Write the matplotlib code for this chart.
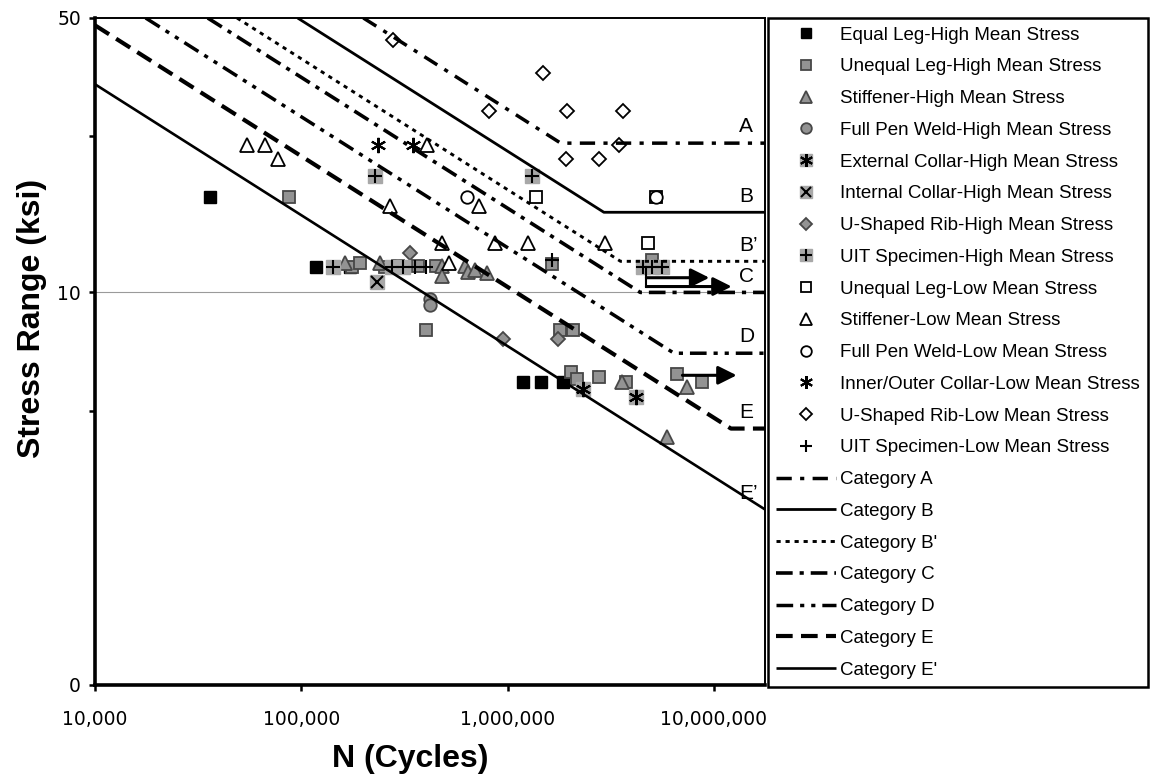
import matplotlib
matplotlib.use('Agg')
import matplotlib.pyplot as plt
from matplotlib.legend_handler import HandlerTuple

plt.rcParams['font.family'] = ['Liberation Sans', 'DejaVu Sans']
plt.rcParams['lines.scale_dashes'] = False

# ---- test data (N cycles, stress range ksi) ----
equal_high_N = [3.6e4, 1.175e5, 1.72e5, 1.19e6, 1.45e6, 1.85e6]
equal_high_S = [17.5, 11.6, 11.6, 5.9, 5.9, 5.9]

unequal_high_N = [8.7e4, 1.76e5, 1.92e5, 2.54e5, 2.93e5, 3.66e5, 4.48e5, 4.01e5, 1.79e6,
                  2.07e6, 1.65e6, 2.04e6, 2.16e6, 2.79e6, 3.77e6, 6.66e6, 8.80e6, 5.04e6]
unequal_high_S = [17.5, 11.6, 11.85, 11.6, 11.7, 11.7, 11.7, 8.0, 8.0,
                  8.0, 11.8, 6.26, 6.01, 6.08, 5.90, 6.18, 5.90, 12.1]

stiff_high_N = [1.62e5, 2.40e5, 4.79e5, 4.79e5, 6.19e5, 6.40e5, 6.92e5, 7.91e5, 3.57e6, 7.44e6, 5.96e6]
stiff_high_S = [11.85, 11.9, 11.7, 11.0, 11.7, 11.3, 11.4, 11.2, 5.93, 5.73, 4.28]

fpw_high_N = [4.19e5, 4.19e5]
fpw_high_S = [9.6, 9.3]

ext_collar_high_N = [2.33e6, 4.21e6]
ext_collar_high_S = [5.67, 5.41]

int_collar_high_N = [2.32e5]
int_collar_high_S = [10.6]

urib_high_N = [3.35e5, 9.46e5, 1.75e6]
urib_high_S = [12.6, 7.6, 7.6]

uit_high_N = [1.42e5, 2.27e5, 2.74e5, 3.10e5, 1.31e6, 4.51e6, 5.04e6, 5.63e6]
uit_high_S = [11.6, 19.8, 11.6, 11.6, 19.8, 11.6, 11.6, 11.6]

unequal_low_N = [1.37e6, 5.27e6, 4.82e6]
unequal_low_S = [17.5, 17.5, 13.4]

stiff_low_N = [5.45e4, 6.66e4, 7.70e4, 2.68e5, 4.05e5, 7.31e5, 4.79e5, 8.65e5, 1.26e6, 2.98e6, 5.18e5]
stiff_low_S = [23.8, 23.8, 21.9, 16.6, 23.8, 16.6, 13.4, 13.4, 13.4, 13.4, 11.85]

fpw_low_N = [6.33e5, 5.27e6]
fpw_low_S = [17.5, 17.5]

collar_low_N = [2.35e5, 3.47e5]
collar_low_S = [23.8, 23.8]

urib_low_N = [2.77e5, 1.49e6, 8.09e5, 1.95e6, 3.61e6, 3.45e6, 1.91e6, 2.79e6]
urib_low_S = [44.0, 36.3, 28.9, 28.9, 28.9, 23.8, 21.9, 21.9]

uit_low_N = [3.55e5, 4.01e5, 1.65e6]
uit_low_S = [11.6, 11.6, 12.1]

# run-out arrows (start N, end N, S)
runout_start = [4.71e6, 4.71e6, 7.04e6]
runout_end = [9.51e6, 1.22e7, 1.29e7]
runout_S = [10.9, 10.35, 6.15]

# ---- detail category curves (vertices) ----
cat_names = ['A', 'B', "B'", 'C', 'D', 'E', "E'"]
cat_tags = ['A', 'B', 'B\u2019', 'C', 'D', 'E', 'E\u2019']
cat_N = [[2.0e5, 1.81e6, 1.77e7],
         [9.6e4, 2.93e6, 1.77e7],
         [4.88e4, 3.53e6, 1.77e7],
         [3.52e4, 4.4e6, 1.77e7],
         [1.76e4, 6.41e6, 1.77e7],
         [1.0e4, 1.21e7, 1.77e7],
         [1.0e4, 1.77e7]]
cat_S = [[50, 24, 24],
         [50, 16, 16],
         [50, 12, 12],
         [50, 10, 10],
         [50, 7, 7],
         [47.9, 4.5, 4.5],
         [33.9, 2.8]]

cat_styles = [dict(ls=(0, (11, 6, 3, 6)), lw=2.5),
              dict(ls='-', lw=2.0),
              dict(ls=(0, (3, 3.5)), lw=2.1),
              dict(ls=(0, (12, 5, 3, 5)), lw=2.6),
              dict(ls=(0, (12, 5, 3, 5, 3, 5)), lw=2.5),
              dict(ls=(0, (12, 6)), lw=3.0),
              dict(ls='-', lw=1.9)]

GRAY = '#939393'
EDGE = '#474747'
BG = '#a8a8a8'

fig = plt.figure(figsize=(11.54, 7.8), dpi=100)
ax = fig.add_axes([95 / 1154, 1 - 685 / 780, 670 / 1154, 667 / 780])
ax.set_xscale('log')
ax.set_yscale('log')

handles = []
labels = []


def pts(N, S, **kw):
    return ax.plot(N, S, linestyle='none', zorder=3, **kw)[0]


def boxed(N, S, marker, ms=10):
    bg = ax.plot(N, S, linestyle='none', marker='s', ms=10.5, mfc=BG, mec=BG, zorder=3)[0]
    fg = ax.plot(N, S, linestyle='none', marker=marker, ms=ms, mfc='none', mec='black',
                 mew=1.5, zorder=3)[0]
    return (bg, fg)


handles.append(pts(equal_high_N, equal_high_S, marker='s', ms=9, mfc='black', mec='black'))
labels.append('Equal Leg-High Mean Stress')
handles.append(pts(unequal_high_N, unequal_high_S, marker='s', ms=9, mfc=GRAY, mec=EDGE, mew=1.3))
labels.append('Unequal Leg-High Mean Stress')
handles.append(pts(stiff_high_N, stiff_high_S, marker='^', ms=10, mfc=GRAY, mec=EDGE, mew=1.3))
labels.append('Stiffener-High Mean Stress')
handles.append(pts(fpw_high_N, fpw_high_S, marker='o', ms=9, mfc=GRAY, mec=EDGE, mew=1.3))
labels.append('Full Pen Weld-High Mean Stress')
handles.append(boxed(ext_collar_high_N, ext_collar_high_S, (6, 2, 0), ms=11))
labels.append('External Collar-High Mean Stress')
handles.append(boxed(int_collar_high_N, int_collar_high_S, 'x', ms=9))
labels.append('Internal Collar-High Mean Stress')
handles.append(pts(urib_high_N, urib_high_S, marker='D', ms=7, mfc=GRAY, mec=EDGE, mew=1.3))
labels.append('U-Shaped Rib-High Mean Stress')
handles.append(boxed(uit_high_N, uit_high_S, '+', ms=10))
labels.append('UIT Specimen-High Mean Stress')
handles.append(pts(unequal_low_N, unequal_low_S, marker='s', ms=9, mfc='white', mec='black', mew=1.3))
labels.append('Unequal Leg-Low Mean Stress')
handles.append(pts(stiff_low_N, stiff_low_S, marker='^', ms=10, mfc='white', mec='black', mew=1.3))
labels.append('Stiffener-Low Mean Stress')
handles.append(pts(fpw_low_N, fpw_low_S, marker='o', ms=9, mfc='white', mec='black', mew=1.3))
labels.append('Full Pen Weld-Low Mean Stress')
handles.append(pts(collar_low_N, collar_low_S, marker=(6, 2, 0), ms=11, mec='black', mew=1.5))
labels.append('Inner/Outer Collar-Low Mean Stress')
handles.append(pts(urib_low_N, urib_low_S, marker='D', ms=7, mfc='white', mec='black', mew=1.3))
labels.append('U-Shaped Rib-Low Mean Stress')
handles.append(pts(uit_low_N, uit_low_S, marker='+', ms=10, mec='black', mew=1.5))
labels.append('UIT Specimen-Low Mean Stress')

# run-out arrows
ax.plot([runout_start[0], runout_start[1]], [uit_high_S[-1], runout_S[1]], color='black', lw=1.5, zorder=4)
for n0, n1, s in zip(runout_start, runout_end, runout_S):
    ax.annotate('', xy=(n1, s), xytext=(n0, s),
                arrowprops=dict(arrowstyle='-|>', color='black', lw=2.2, mutation_scale=28,
                                shrinkA=0, shrinkB=0), zorder=4)

# category curves
for name, tag, N, S, st in zip(cat_names, cat_tags, cat_N, cat_S, cat_styles):
    h, = ax.plot(N, S, color='black', zorder=5, solid_capstyle='butt', dash_capstyle='butt', **st)
    handles.append(h)
    labels.append('Category ' + name)
    ax.text(1.33e7, S[-1] * 1.1, tag, fontsize=15, ha='left', va='center')

ax.axhline(10, color='#9a9a9a', lw=0.8, zorder=1)

ax.set_xlim(1e4, 1.77e7)
ax.set_ylim(1, 50)
ax.set_xticks([1e4, 1e5, 1e6, 1e7])
ax.set_xticklabels(['10,000', '100,000', '1,000,000', '10,000,000'], family='DejaVu Sans')
ax.set_yticks([1, 5, 10, 25, 50])
ax.set_yticklabels(['0', '', '10', '', '50'], family='DejaVu Sans')
ax.minorticks_off()
ax.tick_params(axis='both', direction='out', length=4, width=1.8, labelsize=13.5, pad=6)
ax.tick_params(axis='x', pad=14)

for side in ['left', 'bottom']:
    ax.spines[side].set_linewidth(2.6)
for side in ['top', 'right']:
    ax.spines[side].set_linewidth(1.4)

ax.set_xlabel('N (Cycles)', fontsize=23, fontweight='bold')
ax.set_ylabel('Stress Range (ksi)', fontsize=23, fontweight='bold')
ax.xaxis.set_label_coords(0.47, -0.088)
ax.yaxis.set_label_coords(-0.072, 0.55)

leg = fig.legend(handles, labels, loc='upper left', bbox_to_anchor=(768 / 1154, 1 - 18 / 780),
                 fontsize=13.5, frameon=True, fancybox=False, edgecolor='black', framealpha=1,
                 borderaxespad=0, numpoints=1, handlelength=3.2, handletextpad=0.2,
                 labelspacing=0.78, borderpad=0.45, markerscale=0.85,
                 handler_map={tuple: HandlerTuple(ndivide=1)})
leg.get_frame().set_linewidth(1.8)

fig.savefig('out.png', dpi=100)
